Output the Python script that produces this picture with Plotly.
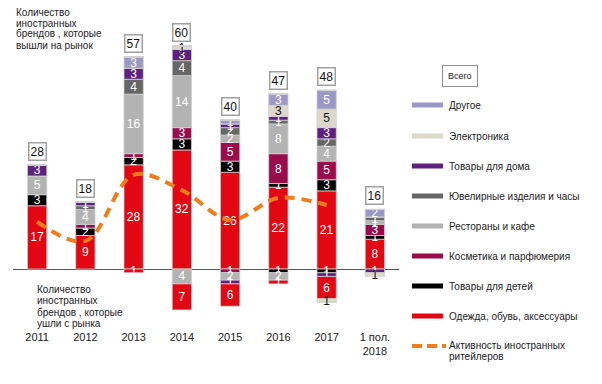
import plotly.graph_objects as go

years = ['2011', '2012', '2013', '2014', '2015', '2016', '2017', '1 пол.<br>2018']

series_names = ['Одежда, обувь, аксессуары', 'Товары для детей', 'Косметика и парфюмерия',
                'Рестораны и кафе', 'Ювелирные изделия и часы', 'Товары для дома',
                'Электроника', 'Другое']
series_colors = ['#E30613', '#000000', '#9B0A4B', '#B3B3B3', '#666666', '#5E2180', '#DDD8CC', '#9C98C6']
label_colors = ['white', 'white', 'white', 'white', 'white', 'white', '#111111', 'white']

# brands that entered the market
in_clothes = [17, 9, 28, 32, 26, 22, 21, 8]
in_kids = [3, 2, 2, 3, 3, 1, 3, 1]
in_cosm = [0, 1, 1, 3, 5, 8, 5, 3]
in_rest = [5, 4, 16, 14, 2, 8, 4, 1]
in_jew = [0, 1, 4, 4, 2, 1, 2, 1]
in_home = [3, 1, 3, 3, 1, 1, 3, 0]
in_elec = [0, 0, 0, 1, 0, 3, 5, 0]
in_other = [0, 0, 3, 0, 1, 3, 5, 2]
totals_in = [28, 18, 57, 60, 40, 47, 48, 16]

# brands that left the market
out_clothes = [0, 0, 1, 7, 6, 1, 6, 0]
out_kids = [0, 0, 0, 0, 0, 1, 1, 0]
out_cosm = [0, 0, 0, 0, 1, 0, 0, 0]
out_rest = [0, 0, 0, 4, 2, 2, 0, 0]
out_jew = [0, 0, 0, 0, 0, 0, 0, 0]
out_home = [0, 0, 0, 0, 1, 0, 1, 1]
out_elec = [0, 0, 0, 0, 0, 0, 1, 1]
out_other = [0, 0, 0, 0, 0, 0, 0, 0]

activity_years = years[:7]
activity = [12.7, 7.5, 25.3, 21.2, 13.2, 19.1, 17.2]

in_series = [in_clothes, in_kids, in_cosm, in_rest, in_jew, in_home, in_elec, in_other]
out_series = [out_clothes, out_kids, out_cosm, out_rest, out_jew, out_home, out_elec, out_other]
# stacking order of exits, from the axis downward
out_order = [1, 2, 3, 4, 5, 0, 6, 7]

FONT = 'Liberation Sans, Arial, sans-serif'
fig = go.Figure()

for i, vals in enumerate(in_series):
    fig.add_trace(go.Bar(
        x=years, y=vals, width=0.4,
        marker=dict(color=series_colors[i], line=dict(color='#D0D0D0', width=0.8)),
        text=[str(v) if v else '' for v in vals],
        textposition='inside', insidetextanchor='middle', textangle=0,
        textfont=dict(color=label_colors[i], size=12, family=FONT),
        showlegend=False, hoverinfo='skip'))

for i in out_order:
    vals = out_series[i]
    fig.add_trace(go.Bar(
        x=years, y=[-v for v in vals], width=0.4,
        marker=dict(color=series_colors[i], line=dict(color='#D0D0D0', width=0.8)),
        text=[str(v) if v else '' for v in vals],
        textposition='inside', insidetextanchor='middle', textangle=0,
        textfont=dict(color=label_colors[i], size=12, family=FONT),
        showlegend=False, hoverinfo='skip'))

fig.add_trace(go.Scatter(
    x=activity_years, y=activity, mode='lines',
    line=dict(color='#F07D1A', width=4, dash='10px,7px', shape='spline', smoothing=1.0),
    showlegend=False, hoverinfo='skip'))

# total boxes
for k, t in enumerate(totals_in):
    fig.add_annotation(x=k, y=t, text=str(t), showarrow=False, yanchor='bottom', yshift=4,
                       font=dict(size=12, family=FONT, color='#111111'),
                       bgcolor='white', bordercolor='#A0A0A0', borderwidth=1.5, borderpad=1)

# pixel -> paper helpers
L, R, T, B = 13, 399, 10, 326
def px(x):
    return (x - L) / (R - L)
def py(y):
    return (B - y) / (B - T)

def text_at(x, y, s, size=10, anchor='left'):
    fig.add_annotation(x=px(x), y=py(y), xref='paper', yref='paper', text=s, showarrow=False,
                       xanchor=anchor, yanchor='middle', font=dict(size=size, family=FONT, color='#222222'))

for k, line in enumerate(['Количество', 'иностранных', 'брендов , которые', 'вышли на рынок']):
    text_at(14, 12 + 11 * k, line)
for k, line in enumerate(['Количество', 'иностранных', 'брендов , которые', 'ушли с рынка']):
    text_at(35, 289 + 11.5 * k, line)

# legend
fig.add_annotation(x=px(460), y=py(76), xref='paper', yref='paper', text='Всего', showarrow=False,
                   xanchor='center', yanchor='middle', font=dict(size=9, family=FONT, color='#222222'),
                   bgcolor='white', bordercolor='#909090', borderwidth=1, borderpad=5)
legend_rows = [(7, 105), (6, 136), (5, 166), (4, 196), (3, 226), (2, 256), (1, 286), (0, 316)]
for idx, yy in legend_rows:
    fig.add_shape(type='line', xref='paper', yref='paper', x0=px(412), x1=px(443), y0=py(yy), y1=py(yy),
                  line=dict(color=series_colors[idx], width=5))
    text_at(447, yy, series_names[idx])
fig.add_shape(type='line', xref='paper', yref='paper', x0=px(412), x1=px(446), y0=py(346), y1=py(346),
              line=dict(color='#F07D1A', width=4, dash='10px,5px'))
text_at(447, 346, 'Активность иностранных')
text_at(447, 356, 'ритейлеров')

fig.update_layout(
    width=602, height=384,
    margin=dict(l=L, r=602 - R, t=T, b=384 - B),
    barmode='relative', bargap=0.6,
    plot_bgcolor='white', paper_bgcolor='white',
    uniformtext=dict(minsize=12, mode='show'),
    font=dict(family=FONT, size=11, color='#222222'),
    xaxis=dict(type='category', showgrid=False, showline=False, ticks='',
               tickfont=dict(size=11, family=FONT, color='#222222'), ticklabelstandoff=3,
               range=[-0.5, 7.5], fixedrange=True),
    yaxis=dict(showgrid=False, showticklabels=False, showline=False, ticks='',
               zeroline=True, zerolinecolor='#555555', zerolinewidth=1,
               range=[-15.32, 69.62], fixedrange=True),
)

fig.write_html('out.html', config={'displayModeBar': False},
               post_script="document.body.style.margin='0';document.body.style.overflow='hidden';")
